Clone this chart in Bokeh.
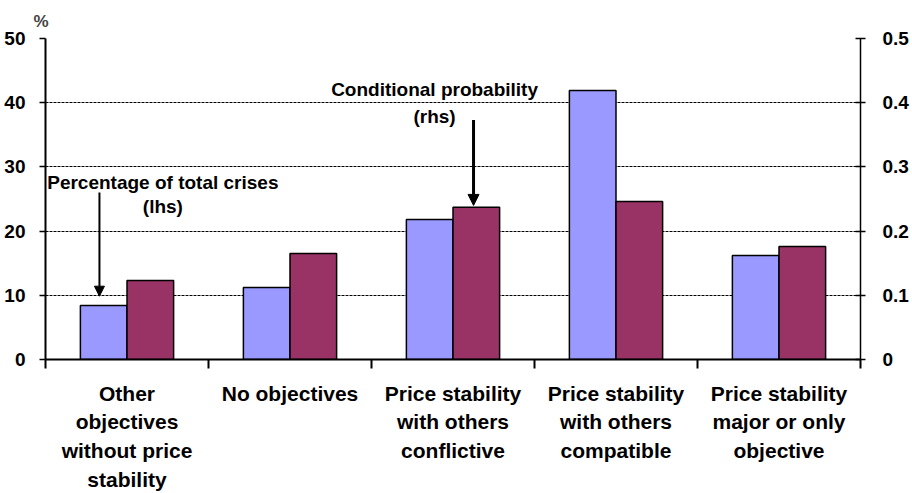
import numpy as np
from bokeh.plotting import figure
from bokeh.models import Range1d, LinearAxis, FixedTicker, Arrow, NormalHead, Label
from bokeh.embed import file_html
from bokeh.resources import INLINE

categories = [
    "Other\nobjectives\nwithout price\nstability",
    "No objectives",
    "Price stability\nwith others\nconflictive",
    "Price stability\nwith others\ncompatible",
    "Price stability\nmajor or only\nobjective",
]
share_of_crises = [8.4, 11.2, 21.8, 41.9, 16.2]          # % of total crises (lhs)
cond_prob = [0.123, 0.165, 0.237, 0.246, 0.176]          # conditional probability (rhs)
lhs_ticks = [0, 10, 20, 30, 40, 50]
rhs_ticks = [0, 0.1, 0.2, 0.3, 0.4, 0.5]

FONT = "Liberation Sans"
BLUE = "#9999FF"
MAROON = "#993366"

n = len(categories)
idx = np.arange(n)
bw = 0.286

p = figure(frame_width=815, frame_height=321, output_backend="svg", toolbar_location=None,
           x_range=Range1d(0, n), y_range=Range1d(0, 50),
           min_border_left=45, min_border_top=38, min_border_right=10, min_border_bottom=5,
           title="%")
p.title.text_font = FONT
p.title.text_font_style = "bold"
p.title.text_font_size = "17px"
p.title.align = "left"
p.title.offset = -12
p.title.standoff = 16
p.outline_line_color = None
p.background_fill_color = "white"
p.border_fill_color = "white"
p.extra_y_ranges = {"rhs": Range1d(0, 0.5)}

p.vbar(x=idx + 0.5 - bw / 2, top=share_of_crises, width=bw, fill_color=BLUE,
       line_color="black", line_width=1.5)
p.vbar(x=idx + 0.5 + bw / 2, top=cond_prob, width=bw, fill_color=MAROON,
       line_color="black", line_width=1.5, y_range_name="rhs")

# x axis
xa = p.xaxis[0]
xa.ticker = FixedTicker(ticks=list(idx + 0.5), minor_ticks=list(range(n + 1)))
xa.major_label_overrides = {float(i + 0.5): c for i, c in enumerate(categories)}
xa.major_tick_line_color = None
xa.major_tick_out = 0
xa.major_tick_in = 0
xa.minor_tick_out = 9
xa.minor_tick_in = 0
xa.minor_tick_line_color = "black"
xa.minor_tick_line_width = 2
xa.axis_line_color = "black"
xa.axis_line_width = 2
xa.major_label_standoff = 13
xa.major_label_text_font = FONT
xa.major_label_text_font_style = "bold"
xa.major_label_text_font_size = "21px"
xa.major_label_text_line_height = 1.25
xa.major_label_text_color = "black"

# left axis
ya = p.yaxis[0]
ya.ticker = FixedTicker(ticks=lhs_ticks)
ya.major_tick_out = 6
ya.major_tick_in = 0
ya.minor_tick_line_color = None
ya.axis_line_width = 2
ya.axis_line_color = "black"
ya.major_tick_line_width = 1.5
ya.major_label_standoff = 14
ya.major_label_text_font = FONT
ya.major_label_text_font_style = "bold"
ya.major_label_text_font_size = "19px"
ya.major_label_text_color = "black"

# right axis
ra = LinearAxis(y_range_name="rhs", ticker=FixedTicker(ticks=rhs_ticks))
ra.major_tick_out = 5
ra.major_tick_in = 5
ra.minor_tick_line_color = None
ra.axis_line_width = 1.5
ra.axis_line_color = "black"
ra.major_tick_line_width = 1.5
ra.major_label_standoff = 17
ra.major_label_text_font = FONT
ra.major_label_text_font_style = "bold"
ra.major_label_text_font_size = "19px"
ra.major_label_text_color = "black"
p.add_layout(ra, "right")

p.xgrid.grid_line_color = None
p.ygrid.ticker = FixedTicker(ticks=lhs_ticks)
p.ygrid.grid_line_color = "black"
p.ygrid.grid_line_dash = "3 1"
p.ygrid.grid_line_width = 1

# annotations
def lab(x, y, t, size="19px", align="center"):
    p.add_layout(Label(x=x, y=y, text=t, text_font=FONT, text_font_style="bold",
                       text_font_size=size, text_align=align, text_baseline="middle",
                       text_color="black"))

lab(0.72, 27.6, "Percentage of total crises")
lab(0.72, 23.8, "(lhs)")
lab(2.387, 42.1, "Conditional probability")
lab(2.387, 37.9, "(rhs)")

p.add_layout(Arrow(x_start=0.331, y_start=26.0, x_end=0.331, y_end=9.86, line_width=2,
                   line_color="black",
                   end=NormalHead(size=10, fill_color="black", line_color="black")))
p.add_layout(Arrow(x_start=2.626, y_start=37.3, x_end=2.626, y_end=24.0, line_width=3,
                   line_color="black",
                   end=NormalHead(size=11, fill_color="black", line_color="black")))

open("out.html", "w").write(file_html(p, INLINE))
